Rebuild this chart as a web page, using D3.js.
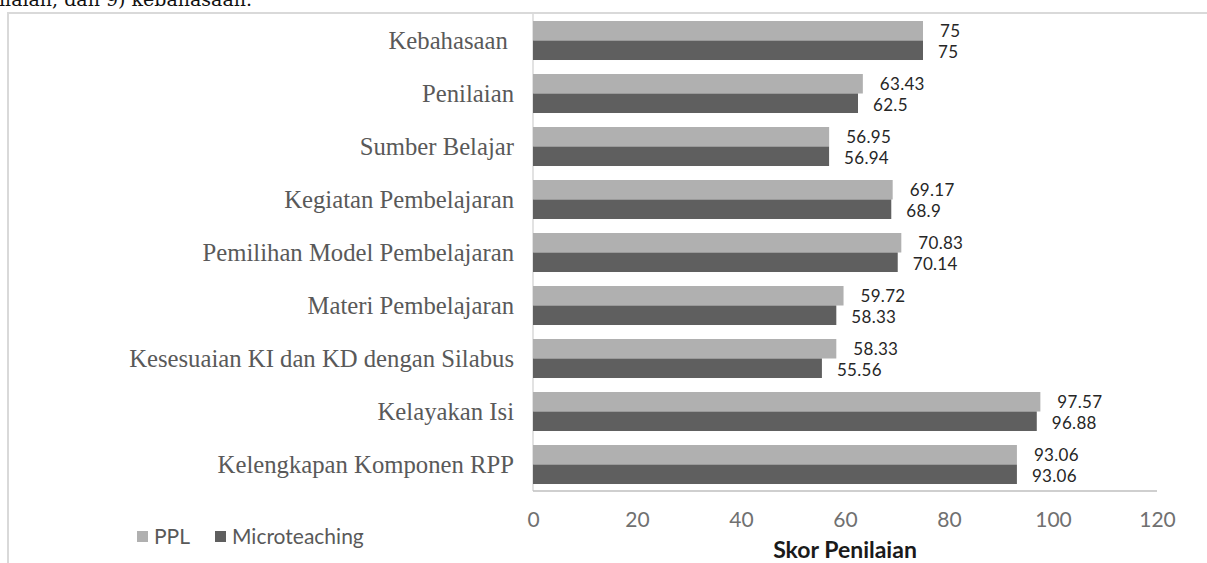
<!DOCTYPE html>
<html><head><meta charset="utf-8">
<script src="https://cdn.jsdelivr.net/npm/d3@7"></script>
<style>html,body{margin:0;padding:0;background:#fff;overflow:hidden}</style>
</head><body>
<svg id="chart" width="1207" height="563"></svg>
<script>
const categories = ["Kebahasaan ", "Penilaian", "Sumber Belajar", "Kegiatan Pembelajaran", "Pemilihan Model Pembelajaran", "Materi Pembelajaran", "Kesesuaian KI dan KD dengan Silabus", "Kelayakan Isi", "Kelengkapan Komponen RPP"];
const pplValues = [75, 63.43, 56.95, 69.17, 70.83, 59.72, 58.33, 97.57, 93.06];
const microValues = [75, 62.5, 56.94, 68.9, 70.14, 58.33, 55.56, 96.88, 93.06];
const seriesNames = ["PPL", "Microteaching"];
const seriesColors = ["#b0b0b0", "#5f5f5f"];
const tickValues = [0, 20, 40, 60, 80, 100, 120];
const axisTitle = "Skor Penilaian";
const captionText = "penilaian, dan 9) kebahasaan.";

const svg = d3.select("#chart");

// caption fragment cut at top (as in the reference)
svg.append("text").attr("x", 252).attr("y", 6).attr("text-anchor", "end")
  .style("font-family", "DejaVu Serif").style("font-size", "19px").attr("fill", "#111")
  .text(captionText);

// frame
svg.append("line").attr("x1", 8).attr("x2", 1207).attr("y1", 13).attr("y2", 13).attr("stroke", "#d9d9d9").attr("stroke-width", 2);
svg.append("line").attr("x1", 8).attr("x2", 8).attr("y1", 12).attr("y2", 563).attr("stroke", "#d9d9d9").attr("stroke-width", 2);

const x = d3.scaleLinear().domain([0, 120]).range([533, 1157]);
const y = d3.scaleBand().domain(categories).range([14, 491]).paddingInner(0.264).paddingOuter(0.132);
const ys = d3.scaleBand().domain(seriesNames).range([0, y.bandwidth()]);

const data = categories.map((c, i) => ({cat: c, vals: [pplValues[i], microValues[i]]}));

// axis lines
svg.append("line").attr("x1", x(0)).attr("x2", x(0)).attr("y1", 14).attr("y2", 491).attr("stroke", "#d9d9d9").attr("stroke-width", 1.5);
svg.append("line").attr("x1", x(0)).attr("x2", x(120)).attr("y1", 491).attr("y2", 491).attr("stroke", "#bfbfbf").attr("stroke-width", 1.5);

const g = svg.append("g").selectAll("g").data(data).join("g")
  .attr("transform", d => `translate(0,${y(d.cat)})`);
g.selectAll("rect").data(d => d.vals.map((v, j) => ({v, s: seriesNames[j], j}))).join("rect")
  .attr("x", x(0)).attr("y", d => ys(d.s)).attr("height", ys.bandwidth())
  .attr("width", d => x(d.v) - x(0)).attr("fill", d => seriesColors[d.j]);
g.selectAll("text.val").data(d => d.vals.map((v, j) => ({v, s: seriesNames[j], j}))).join("text")
  .attr("class", "val")
  .attr("x", d => x(d.v) + (d.j === 0 ? 17 : 15))
  .attr("y", d => ys(d.s) + ys.bandwidth() / 2 + (d.j === 0 ? 0 : 1.5))
  .attr("dy", "0.35em")
  .style("font-family", "Lato").style("font-size", "17px").style("letter-spacing", "0.3px").attr("fill", "#262626")
  .text(d => d.v);

// category labels
const labels = svg.append("g").selectAll("text").data(categories).join("text")
  .attr("x", 514).attr("y", d => y(d) + y.bandwidth() / 2).attr("dy", "0.35em")
  .attr("text-anchor", "end").style("white-space", "pre")
  .style("font-family", "Liberation Serif").style("font-size", "20px").attr("fill", "#595959")
  .text(d => d);
let maxW = 0;
labels.each(function(){ maxW = Math.max(maxW, this.getComputedTextLength()); });
labels.style("font-size", (20 * 385 / maxW) + "px");

// x axis ticks
const xAxis = d3.axisBottom(x).tickValues(tickValues).tickSize(0).tickPadding(0).tickFormat(d3.format("d"));
const ax = svg.append("g").attr("transform", "translate(0,512)").call(xAxis);
ax.select(".domain").remove();
ax.selectAll("text").style("font-family", "Lato").style("font-size", "21px").attr("fill", "#707070");

svg.append("text").attr("x", (x(0) + x(120)) / 2).attr("y", 558).attr("text-anchor", "middle")
  .style("font-family", "Lato").style("font-size", "23px").style("font-weight", "bold").attr("fill", "#1a1a1a")
  .text(axisTitle);

// legend
const legendX = [137, 215];
const lg = svg.append("g").selectAll("g").data(seriesNames).join("g")
  .attr("transform", (d, i) => `translate(${legendX[i]},531)`);
lg.append("rect").attr("width", 11).attr("height", 11).attr("fill", (d, i) => seriesColors[i]);
lg.append("text").attr("x", 17).attr("y", 5.5).attr("dy", "0.35em")
  .style("font-family", "Lato").style("font-size", "21px").attr("fill", "#595959").text(d => d);
</script>
</body></html>
